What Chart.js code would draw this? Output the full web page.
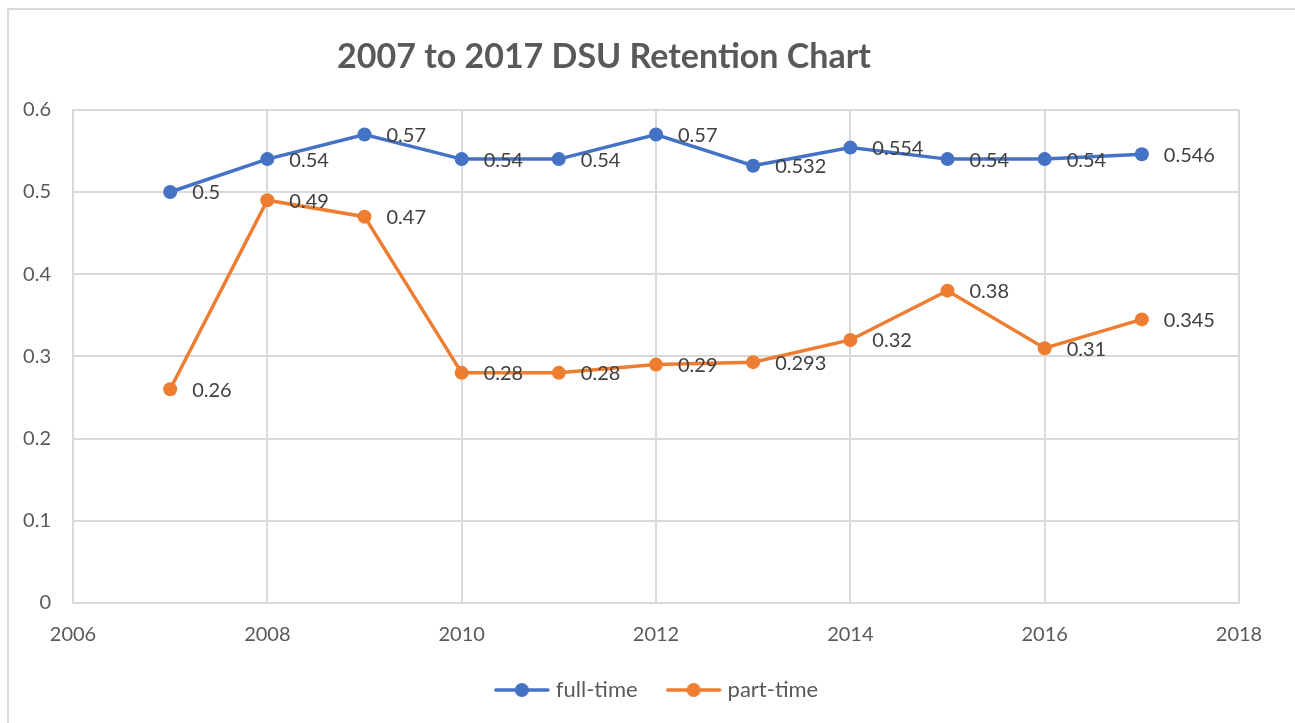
<!DOCTYPE html>
<html>
<head>
<meta charset="utf-8">
<script src="https://cdn.jsdelivr.net/npm/chart.js@4/dist/chart.umd.min.js"></script>
<style>
  html, body { margin: 0; padding: 0; background: #fff; }
  #wrap { position: relative; width: 1295px; height: 723px; overflow: hidden; }
  #frame { position: absolute; left: 7px; top: 8px; width: 1400px; height: 800px;
           border-left: 2px solid #d9d9d9; border-top: 2px solid #d9d9d9; }
  #chart { position: absolute; left: 0; top: 0; }
</style>
</head>
<body>
<div id="wrap">
  <div id="frame"></div>
  <canvas id="chart" width="1295" height="723"></canvas>
</div>
<script>
const years = [2007, 2008, 2009, 2010, 2011, 2012, 2013, 2014, 2015, 2016, 2017];
const fullTime = [0.5, 0.54, 0.57, 0.54, 0.54, 0.57, 0.532, 0.554, 0.54, 0.54, 0.546];
const partTime = [0.26, 0.49, 0.47, 0.28, 0.28, 0.29, 0.293, 0.32, 0.38, 0.31, 0.345];
const seriesNames = ['full-time', 'part-time'];
const chartTitle = '2007 to 2017 DSU Retention Chart';

const BLUE = '#4472c4';
const ORANGE = '#ed7d31';
const TEXT = '#595959';
const GRID = '#d9d9d9';
const FONT = 'Lato, "Open Sans", sans-serif';

// legend symbol: short line with a dot in the middle, like Excel
function legendSymbol(color) {
    const c = document.createElement('canvas');
    c.width = 56; c.height = 16;
    const g = c.getContext('2d');
    g.strokeStyle = color;
    g.lineWidth = 3.5;
    g.lineCap = 'round';
    g.beginPath(); g.moveTo(2, 8); g.lineTo(54, 8); g.stroke();
    g.fillStyle = color;
    g.beginPath(); g.arc(28, 8, 7, 0, Math.PI * 2); g.fill();
    return c;
}

// value labels to the right of each point
const pointLabels = {
    id: 'pointLabels',
    afterDatasetsDraw(chart) {
        const ctx = chart.ctx;
        ctx.save();
        ctx.font = '20px ' + FONT;
        ctx.fillStyle = '#404040';
        ctx.textAlign = 'left';
        ctx.textBaseline = 'middle';
        chart.data.datasets.forEach((ds, i) => {
            chart.getDatasetMeta(i).data.forEach((pt, j) => {
                ctx.fillText(String(ds.data[j].y), pt.x + 22, pt.y + 1);
            });
        });
        ctx.restore();
    }
};

// Excel centres title and legend on the whole chart, not the plot area
const recentre = {
    id: 'recentre',
    afterLayout(chart) {
        if (chart.titleBlock) chart.titleBlock.right -= 31;
        if (chart.legend) {
            chart.legend.left += 39;
            chart.legend.right += 39;
            chart.legend.top -= 13;
            chart.legend.bottom -= 13;
        }
    }
};

const toPoints = vals => vals.map((v, i) => ({ x: years[i], y: v }));

new Chart(document.getElementById('chart'), {
    type: 'scatter',
    data: {
        datasets: [{
            label: seriesNames[0],
            data: toPoints(fullTime),
            showLine: true,
            borderColor: BLUE,
            backgroundColor: BLUE,
            borderWidth: 3.5,
            pointRadius: 7,
            pointHoverRadius: 7,
            pointBorderWidth: 0
        }, {
            label: seriesNames[1],
            data: toPoints(partTime),
            showLine: true,
            borderColor: ORANGE,
            backgroundColor: ORANGE,
            borderWidth: 3.5,
            pointRadius: 7,
            pointHoverRadius: 7,
            pointBorderWidth: 0
        }]
    },
    options: {
        responsive: false,
        animation: false,
        layout: { padding: { left: 0, right: 56, top: 0, bottom: -1 } },
        plugins: {
            title: {
                display: true,
                text: chartTitle,
                color: TEXT,
                font: { size: 34, weight: 'bold', family: FONT },
                padding: { top: 37, bottom: 32 }
            },
            legend: {
                position: 'bottom',
                labels: {
                    color: TEXT,
                    font: { size: 22, family: FONT },
                    usePointStyle: true,
                    pointStyleWidth: 46,
                    padding: 33,
                    generateLabels(chart) {
                        return chart.data.datasets.map((ds, i) => ({
                            text: ds.label,
                            fontColor: TEXT,
                            pointStyle: legendSymbol(ds.borderColor),
                            lineWidth: 0,
                            strokeStyle: 'transparent',
                            fillStyle: 'transparent',
                            datasetIndex: i
                        }));
                    }
                }
            },
            tooltip: { enabled: false }
        },
        scales: {
            x: {
                type: 'linear',
                min: 2006,
                max: 2018,
                ticks: {
                    stepSize: 2,
                    color: TEXT,
                    font: { size: 20, family: FONT },
                    padding: 20,
                    callback: v => String(v)
                },
                grid: { color: GRID, lineWidth: 2, drawTicks: false },
                border: { color: GRID, width: 2 },
                afterFit(scale) { scale.height = 56; }
            },
            y: {
                min: 0,
                max: 0.6,
                ticks: {
                    stepSize: 0.1,
                    color: TEXT,
                    font: { size: 20, family: FONT },
                    padding: 22,
                    callback: v => String(Math.round(v * 10) / 10)
                },
                grid: { color: GRID, lineWidth: 2, drawTicks: false },
                border: { color: GRID, width: 2 },
                afterFit(scale) { scale.width = 73; }
            }
        }
    },
    plugins: [pointLabels, recentre]
});
</script>
</body>
</html>
